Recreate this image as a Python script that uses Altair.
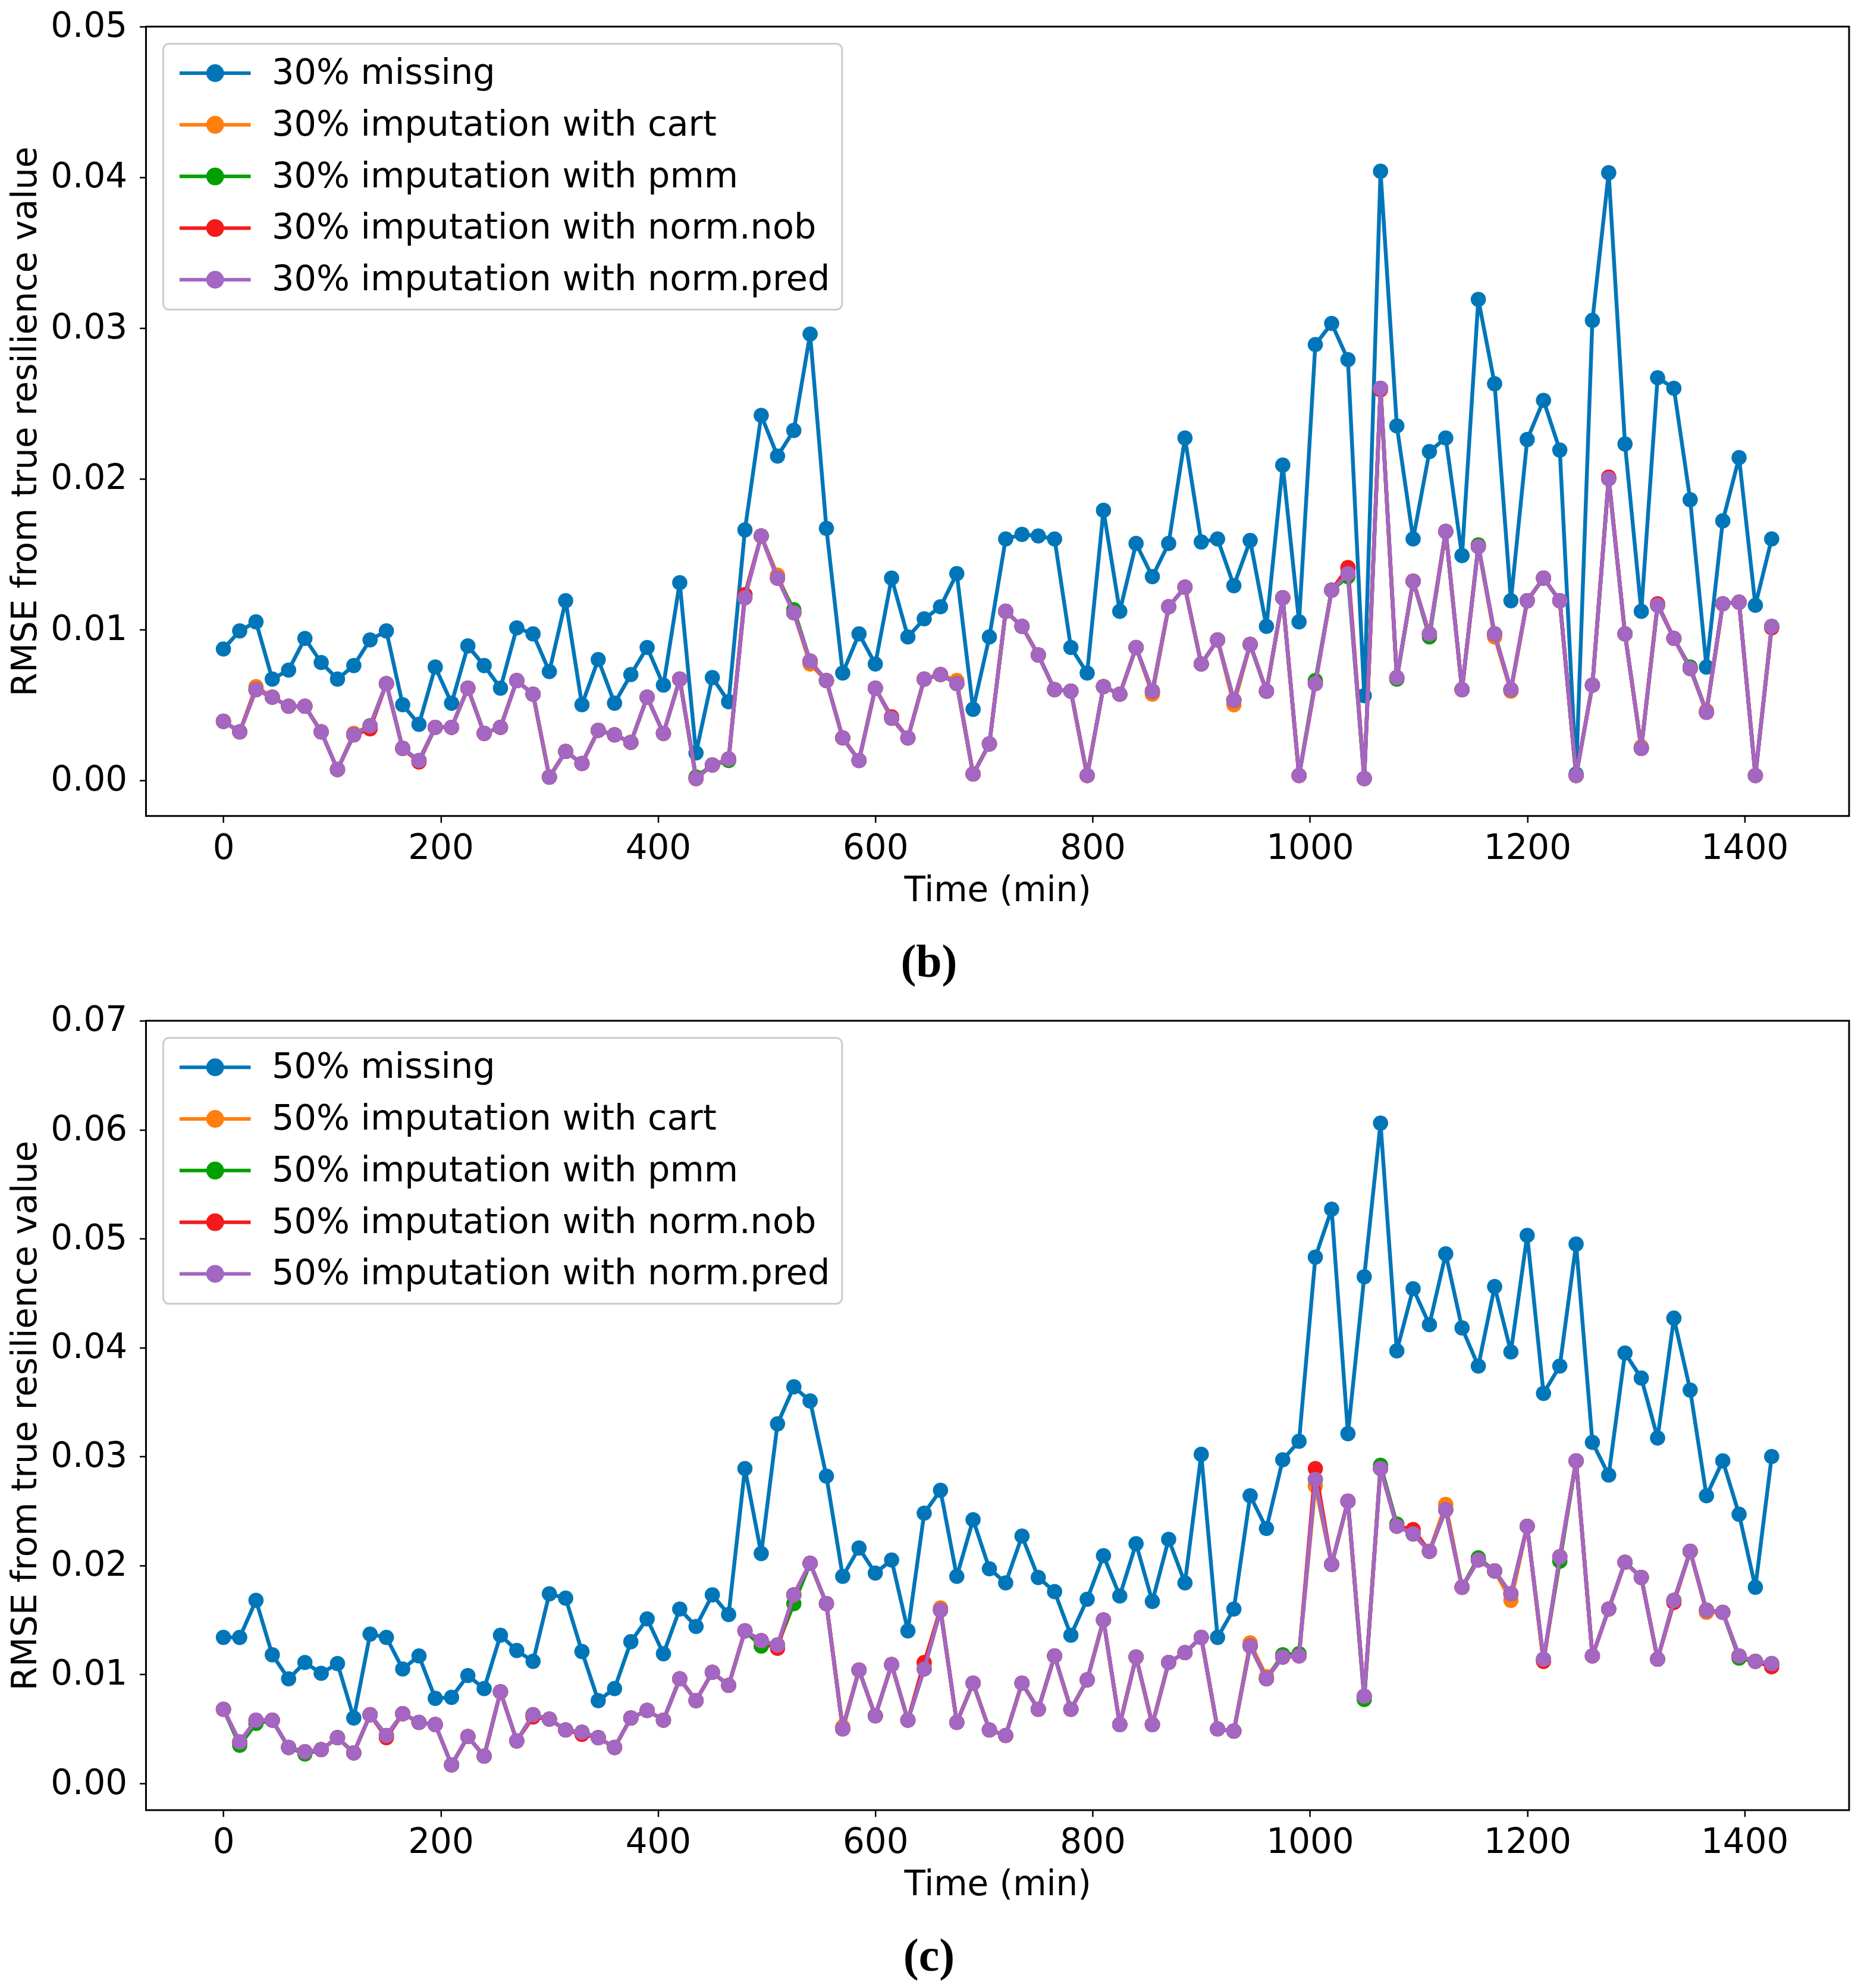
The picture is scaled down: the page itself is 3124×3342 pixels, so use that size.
import altair as alt
import pandas as pd

time_min = list(range(0, 1440, 15))

# ---- panel (b): 30% missing ----
missing_30 = [
    0.0087, 0.0099, 0.0105, 0.0067, 0.0073, 0.0094, 0.0078, 0.0067, 0.0076, 0.0093,
    0.0099, 0.0050, 0.0037, 0.0075, 0.0051, 0.0089, 0.0076, 0.0061, 0.0101, 0.0097,
    0.0072, 0.0119, 0.0050, 0.0080, 0.0051, 0.0070, 0.0088, 0.0063, 0.0131, 0.0018,
    0.0068, 0.0052, 0.0166, 0.0242, 0.0215, 0.0232, 0.0296, 0.0167, 0.0071, 0.0097,
    0.0077, 0.0134, 0.0095, 0.0107, 0.0115, 0.0137, 0.0047, 0.0095, 0.0160, 0.0163,
    0.0162, 0.0160, 0.0088, 0.0071, 0.0179, 0.0112, 0.0157, 0.0135, 0.0157, 0.0227,
    0.0158, 0.0160, 0.0129, 0.0159, 0.0102, 0.0209, 0.0105, 0.0289, 0.0303, 0.0279,
    0.0056, 0.0404, 0.0235, 0.0160, 0.0218, 0.0227, 0.0149, 0.0319, 0.0263, 0.0119,
    0.0226, 0.0252, 0.0219, 0.0004, 0.0305, 0.0403, 0.0223, 0.0112, 0.0267, 0.0260,
    0.0186, 0.0075, 0.0172, 0.0214, 0.0116, 0.0160]
cart_30 = [
    0.0039, 0.0032, 0.0062, 0.0055, 0.0049, 0.0049, 0.0032, 0.0007, 0.0031, 0.0036,
    0.0064, 0.0021, 0.0013, 0.0035, 0.0035, 0.0061, 0.0031, 0.0035, 0.0066, 0.0057,
    0.0002, 0.0019, 0.0011, 0.0033, 0.0030, 0.0025, 0.0055, 0.0031, 0.0067, 0.0001,
    0.0010, 0.0014, 0.0121, 0.0162, 0.0136, 0.0111, 0.0077, 0.0066, 0.0028, 0.0013,
    0.0061, 0.0041, 0.0028, 0.0067, 0.0070, 0.0066, 0.0004, 0.0024, 0.0112, 0.0102,
    0.0083, 0.0060, 0.0059, 0.0003, 0.0062, 0.0057, 0.0088, 0.0057, 0.0115, 0.0128,
    0.0077, 0.0093, 0.0050, 0.0090, 0.0059, 0.0121, 0.0003, 0.0064, 0.0126, 0.0140,
    0.0001, 0.0260, 0.0068, 0.0132, 0.0097, 0.0165, 0.0060, 0.0155, 0.0095, 0.0059,
    0.0119, 0.0134, 0.0119, 0.0003, 0.0063, 0.0200, 0.0097, 0.0022, 0.0116, 0.0094,
    0.0074, 0.0046, 0.0117, 0.0118, 0.0003, 0.0102]
pmm_30 = [
    0.0039, 0.0032, 0.0060, 0.0055, 0.0049, 0.0049, 0.0032, 0.0007, 0.0030, 0.0036,
    0.0064, 0.0021, 0.0013, 0.0035, 0.0035, 0.0061, 0.0031, 0.0035, 0.0066, 0.0057,
    0.0002, 0.0019, 0.0011, 0.0033, 0.0030, 0.0025, 0.0055, 0.0031, 0.0067, 0.0002,
    0.0010, 0.0013, 0.0123, 0.0162, 0.0134, 0.0113, 0.0079, 0.0066, 0.0028, 0.0013,
    0.0061, 0.0041, 0.0028, 0.0067, 0.0070, 0.0064, 0.0004, 0.0024, 0.0112, 0.0102,
    0.0083, 0.0060, 0.0059, 0.0003, 0.0062, 0.0057, 0.0088, 0.0059, 0.0115, 0.0128,
    0.0077, 0.0093, 0.0053, 0.0090, 0.0059, 0.0121, 0.0003, 0.0066, 0.0126, 0.0135,
    0.0001, 0.0260, 0.0067, 0.0132, 0.0095, 0.0165, 0.0060, 0.0156, 0.0097, 0.0060,
    0.0119, 0.0134, 0.0119, 0.0003, 0.0063, 0.0200, 0.0097, 0.0021, 0.0116, 0.0094,
    0.0075, 0.0045, 0.0117, 0.0118, 0.0003, 0.0102]
nob_30 = [
    0.0039, 0.0032, 0.0060, 0.0055, 0.0049, 0.0049, 0.0032, 0.0007, 0.0030, 0.0034,
    0.0064, 0.0021, 0.0012, 0.0035, 0.0035, 0.0061, 0.0031, 0.0035, 0.0066, 0.0057,
    0.0002, 0.0019, 0.0011, 0.0033, 0.0030, 0.0025, 0.0055, 0.0031, 0.0067, 0.0001,
    0.0010, 0.0014, 0.0123, 0.0162, 0.0134, 0.0111, 0.0079, 0.0066, 0.0028, 0.0013,
    0.0061, 0.0042, 0.0028, 0.0067, 0.0070, 0.0064, 0.0004, 0.0024, 0.0112, 0.0102,
    0.0083, 0.0060, 0.0059, 0.0003, 0.0062, 0.0057, 0.0088, 0.0059, 0.0115, 0.0128,
    0.0077, 0.0093, 0.0053, 0.0090, 0.0059, 0.0121, 0.0003, 0.0064, 0.0126, 0.0141,
    0.0001, 0.0259, 0.0068, 0.0132, 0.0097, 0.0165, 0.0060, 0.0155, 0.0097, 0.0060,
    0.0119, 0.0134, 0.0119, 0.0003, 0.0063, 0.0201, 0.0097, 0.0021, 0.0117, 0.0094,
    0.0074, 0.0045, 0.0117, 0.0118, 0.0003, 0.0101]
pred_30 = [
    0.0039, 0.0032, 0.0060, 0.0055, 0.0049, 0.0049, 0.0032, 0.0007, 0.0030, 0.0036,
    0.0064, 0.0021, 0.0013, 0.0035, 0.0035, 0.0061, 0.0031, 0.0035, 0.0066, 0.0057,
    0.0002, 0.0019, 0.0011, 0.0033, 0.0030, 0.0025, 0.0055, 0.0031, 0.0067, 0.0001,
    0.0010, 0.0014, 0.0121, 0.0162, 0.0134, 0.0111, 0.0079, 0.0066, 0.0028, 0.0013,
    0.0061, 0.0041, 0.0028, 0.0067, 0.0070, 0.0064, 0.0004, 0.0024, 0.0112, 0.0102,
    0.0083, 0.0060, 0.0059, 0.0003, 0.0062, 0.0057, 0.0088, 0.0059, 0.0115, 0.0128,
    0.0077, 0.0093, 0.0053, 0.0090, 0.0059, 0.0121, 0.0003, 0.0064, 0.0126, 0.0137,
    0.0001, 0.0260, 0.0068, 0.0132, 0.0097, 0.0165, 0.0060, 0.0155, 0.0097, 0.0060,
    0.0119, 0.0134, 0.0119, 0.0003, 0.0063, 0.0200, 0.0097, 0.0021, 0.0116, 0.0094,
    0.0074, 0.0045, 0.0117, 0.0118, 0.0003, 0.0102]

# ---- panel (c): 50% missing ----
missing_50 = [
    0.0134, 0.0134, 0.0168, 0.0118, 0.0096, 0.0111, 0.0101, 0.0110, 0.0060, 0.0137,
    0.0134, 0.0105, 0.0117, 0.0078, 0.0079, 0.0099, 0.0087, 0.0136, 0.0122, 0.0112,
    0.0174, 0.0170, 0.0121, 0.0076, 0.0087, 0.0130, 0.0151, 0.0119, 0.0160, 0.0144,
    0.0173, 0.0155, 0.0289, 0.0211, 0.0330, 0.0364, 0.0351, 0.0282, 0.0190, 0.0216,
    0.0193, 0.0205, 0.0140, 0.0248, 0.0269, 0.0190, 0.0242, 0.0197, 0.0184, 0.0227,
    0.0189, 0.0176, 0.0136, 0.0169, 0.0209, 0.0172, 0.0220, 0.0167, 0.0224, 0.0184,
    0.0302, 0.0134, 0.0160, 0.0264, 0.0234, 0.0297, 0.0314, 0.0483, 0.0527, 0.0321,
    0.0465, 0.0606, 0.0397, 0.0454, 0.0421, 0.0486, 0.0418, 0.0383, 0.0456, 0.0396,
    0.0503, 0.0358, 0.0383, 0.0495, 0.0313, 0.0283, 0.0395, 0.0372, 0.0317, 0.0427,
    0.0361, 0.0264, 0.0296, 0.0247, 0.0180, 0.0300]
cart_50 = [
    0.0068, 0.0038, 0.0058, 0.0058, 0.0033, 0.0029, 0.0031, 0.0042, 0.0028, 0.0063,
    0.0044, 0.0064, 0.0056, 0.0054, 0.0017, 0.0043, 0.0025, 0.0084, 0.0039, 0.0063,
    0.0059, 0.0049, 0.0047, 0.0042, 0.0033, 0.0060, 0.0067, 0.0058, 0.0096, 0.0076,
    0.0102, 0.0090, 0.0140, 0.0131, 0.0127, 0.0173, 0.0202, 0.0165, 0.0052, 0.0104,
    0.0062, 0.0109, 0.0058, 0.0110, 0.0161, 0.0056, 0.0092, 0.0049, 0.0044, 0.0092,
    0.0068, 0.0117, 0.0068, 0.0095, 0.0150, 0.0054, 0.0116, 0.0054, 0.0111, 0.0120,
    0.0134, 0.0050, 0.0048, 0.0129, 0.0098, 0.0116, 0.0117, 0.0273, 0.0201, 0.0259,
    0.0080, 0.0289, 0.0236, 0.0229, 0.0213, 0.0256, 0.0180, 0.0205, 0.0195, 0.0168,
    0.0236, 0.0112, 0.0208, 0.0296, 0.0117, 0.0160, 0.0203, 0.0189, 0.0114, 0.0168,
    0.0213, 0.0157, 0.0157, 0.0117, 0.0112, 0.0110]
pmm_50 = [
    0.0068, 0.0035, 0.0055, 0.0058, 0.0033, 0.0027, 0.0031, 0.0042, 0.0028, 0.0063,
    0.0044, 0.0064, 0.0056, 0.0054, 0.0017, 0.0043, 0.0025, 0.0084, 0.0039, 0.0063,
    0.0059, 0.0049, 0.0047, 0.0042, 0.0033, 0.0060, 0.0067, 0.0058, 0.0096, 0.0076,
    0.0102, 0.0090, 0.0140, 0.0126, 0.0127, 0.0165, 0.0202, 0.0165, 0.0050, 0.0104,
    0.0062, 0.0109, 0.0058, 0.0105, 0.0159, 0.0056, 0.0092, 0.0049, 0.0044, 0.0092,
    0.0068, 0.0117, 0.0068, 0.0095, 0.0150, 0.0054, 0.0116, 0.0054, 0.0111, 0.0120,
    0.0134, 0.0050, 0.0048, 0.0126, 0.0096, 0.0118, 0.0119, 0.0279, 0.0201, 0.0259,
    0.0077, 0.0292, 0.0238, 0.0229, 0.0213, 0.0251, 0.0180, 0.0207, 0.0195, 0.0174,
    0.0236, 0.0114, 0.0204, 0.0296, 0.0117, 0.0160, 0.0203, 0.0189, 0.0114, 0.0168,
    0.0213, 0.0159, 0.0157, 0.0115, 0.0112, 0.0110]
nob_50 = [
    0.0068, 0.0038, 0.0058, 0.0058, 0.0033, 0.0029, 0.0031, 0.0042, 0.0028, 0.0063,
    0.0042, 0.0064, 0.0056, 0.0054, 0.0017, 0.0043, 0.0025, 0.0084, 0.0039, 0.0061,
    0.0059, 0.0049, 0.0045, 0.0042, 0.0033, 0.0060, 0.0067, 0.0058, 0.0096, 0.0076,
    0.0102, 0.0090, 0.0140, 0.0131, 0.0124, 0.0173, 0.0202, 0.0165, 0.0050, 0.0104,
    0.0062, 0.0109, 0.0058, 0.0111, 0.0159, 0.0056, 0.0092, 0.0049, 0.0044, 0.0092,
    0.0068, 0.0117, 0.0068, 0.0095, 0.0150, 0.0054, 0.0116, 0.0054, 0.0111, 0.0120,
    0.0134, 0.0050, 0.0048, 0.0126, 0.0096, 0.0116, 0.0117, 0.0289, 0.0201, 0.0259,
    0.0080, 0.0289, 0.0236, 0.0233, 0.0213, 0.0251, 0.0180, 0.0205, 0.0195, 0.0174,
    0.0236, 0.0112, 0.0208, 0.0296, 0.0117, 0.0160, 0.0203, 0.0189, 0.0114, 0.0166,
    0.0213, 0.0159, 0.0157, 0.0117, 0.0112, 0.0107]
pred_50 = [
    0.0068, 0.0038, 0.0058, 0.0058, 0.0033, 0.0029, 0.0031, 0.0042, 0.0028, 0.0063,
    0.0044, 0.0064, 0.0056, 0.0054, 0.0017, 0.0043, 0.0025, 0.0084, 0.0039, 0.0063,
    0.0059, 0.0049, 0.0047, 0.0042, 0.0033, 0.0060, 0.0067, 0.0058, 0.0096, 0.0076,
    0.0102, 0.0090, 0.0140, 0.0131, 0.0127, 0.0173, 0.0202, 0.0165, 0.0050, 0.0104,
    0.0062, 0.0109, 0.0058, 0.0105, 0.0159, 0.0056, 0.0092, 0.0049, 0.0044, 0.0092,
    0.0068, 0.0117, 0.0068, 0.0095, 0.0150, 0.0054, 0.0116, 0.0054, 0.0111, 0.0120,
    0.0134, 0.0050, 0.0048, 0.0126, 0.0096, 0.0116, 0.0117, 0.0279, 0.0201, 0.0259,
    0.0080, 0.0289, 0.0236, 0.0229, 0.0213, 0.0251, 0.0180, 0.0205, 0.0195, 0.0174,
    0.0236, 0.0114, 0.0208, 0.0296, 0.0117, 0.0160, 0.0203, 0.0189, 0.0114, 0.0168,
    0.0213, 0.0159, 0.0157, 0.0117, 0.0112, 0.0110]

labels_30 = ["30% missing", "30% imputation with cart", "30% imputation with pmm",
             "30% imputation with norm.nob", "30% imputation with norm.pred"]
labels_50 = ["50% missing", "50% imputation with cart", "50% imputation with pmm",
             "50% imputation with norm.nob", "50% imputation with norm.pred"]
palette = ["#0076b9", "#ff7f0e", "#00a000", "#f51a1a", "#a366c2"]

x_ticks = [0, 200, 400, 600, 800, 1000, 1200, 1400]
y_ticks_30 = [0.0, 0.01, 0.02, 0.03, 0.04, 0.05]
y_ticks_50 = [0.0, 0.01, 0.02, 0.03, 0.04, 0.05, 0.06, 0.07]


def ring(r):
    return f"M{r},0A{r},{r} 0 1,1 -{r},0A{r},{r} 0 1,1 {r},0"


# legend glyph like matplotlib's: short line with a dot in the middle
legend_glyph = "M-5,0H5" + ring(1.0) + ring(0.6) + ring(0.22)


def panel(labels, columns, y_ticks, y_domain, caption):
    legend = alt.Legend(
        title=None, orient="top-left", offset=29, direction="vertical",
        symbolType=legend_glyph, symbolSize=576, symbolStrokeWidth=6,
        symbolOffset=38, labelOffset=66, labelFont="DejaVu Sans",
        labelFontSize=59, labelColor="black", labelLimit=2000,
        rowPadding=27, padding=20, fillColor="white", strokeColor="#cccccc",
        cornerRadius=10,
    )
    color_scale = alt.Scale(domain=labels, range=palette)
    layers = []
    for name, values in zip(labels, columns):
        df = pd.DataFrame({"time": time_min, "rmse": values, "series": name})
        layers.append(
            alt.Chart(df).mark_line(
                strokeWidth=6.5,
                point=alt.OverlayMarkDef(filled=True, size=660, opacity=1),
            ).encode(
                x=alt.X("time:Q", title="Time (min)",
                        scale=alt.Scale(domain=[-71.25, 1496.25], nice=False, zero=False),
                        axis=alt.Axis(values=x_ticks, format="d")),
                y=alt.Y("rmse:Q", title="RMSE from true resilience value",
                        scale=alt.Scale(domain=y_domain, nice=False, zero=False),
                        axis=alt.Axis(values=y_ticks, format=".2f")),
                color=alt.Color("series:N", scale=color_scale, legend=legend),
            )
        )
    return alt.layer(*layers).properties(
        width=2870, height=1330,
        title=alt.TitleParams(caption, orient="bottom", anchor="middle", frame="bounds",
                              font="Liberation Serif", fontSize=78, fontWeight="bold",
                              color="black", offset=54),
    )


top = panel(labels_30, [missing_30, cart_30, pmm_30, nob_30, pred_30],
            y_ticks_30, [-0.00238, 0.05], "(b)")
bottom = panel(labels_50, [missing_50, cart_50, pmm_50, nob_50, pred_50],
               y_ticks_50, [-0.00245, 0.07], "(c)")

chart = alt.vconcat(top, bottom, spacing=25).resolve_scale(
    color="independent"
).configure(
    font="DejaVu Sans", padding={"left": 5, "top": 2, "right": 5, "bottom": 5}
).configure_view(
    stroke="black", strokeWidth=3
).configure_axis(
    domain=False, grid=False,
    labelFont="DejaVu Sans", labelFontSize=58, labelColor="black",
    titleFont="DejaVu Sans", titleFontSize=58, titleFontWeight="normal", titleColor="black",
    tickColor="black", tickSize=11, tickWidth=2.5,
).configure_axisX(
    labelPadding=15, titlePadding=13
).configure_axisY(
    labelPadding=21, titlePadding=12
).configure_legend(
    strokeWidth=3
)

chart.save("out.html", embed_options={"renderer": "svg", "actions": False})
